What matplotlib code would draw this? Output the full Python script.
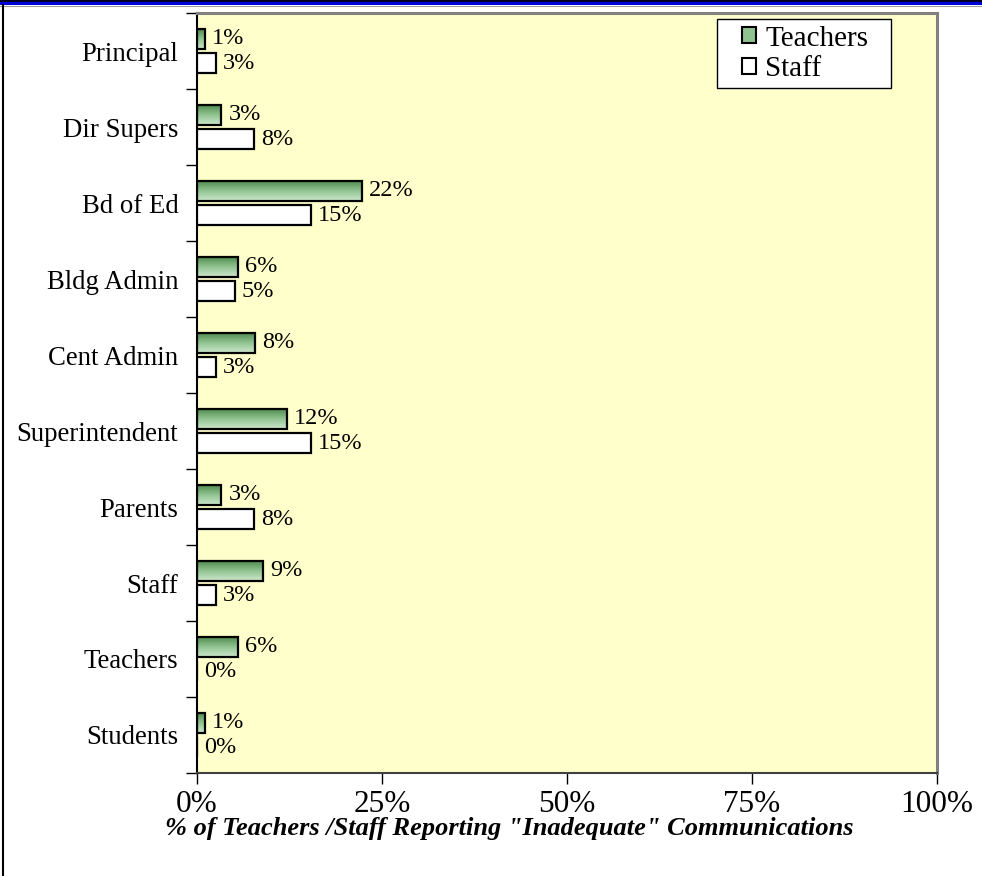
import numpy as np
import matplotlib.pyplot as plt
from matplotlib.patches import Rectangle
from matplotlib.lines import Line2D
from matplotlib.colors import LinearSegmentedColormap

# categories listed top to bottom
categories = ["Principal", "Dir Supers", "Bd of Ed", "Bldg Admin", "Cent Admin",
              "Superintendent", "Parents", "Staff", "Teachers", "Students"]
teachers = [1.1, 3.3, 22.3, 5.6, 7.8, 12.2, 3.3, 8.9, 5.6, 1.1]
staff = [2.6, 7.7, 15.4, 5.1, 2.6, 15.4, 7.7, 2.6, 0.0, 0.0]
teacher_labels = ["1%", "3%", "22%", "6%", "8%", "12%", "3%", "9%", "6%", "1%"]
staff_labels = ["3%", "8%", "15%", "5%", "3%", "15%", "8%", "3%", "0%", "0%"]
xticks = [0, 25, 50, 75, 100]
xtick_labels = ["0%", "25%", "50%", "75%", "100%"]

plt.rcParams['font.family'] = ['Liberation Serif', 'DejaVu Serif']

fig = plt.figure(figsize=(9.82, 8.76), dpi=100)
ax = fig.add_axes([197 / 982, 1 - 773 / 876, 740 / 982, 760 / 876])
ax.set_facecolor("#ffffcc")

n = len(categories)
ypos = np.arange(n)[::-1].astype(float)  # top category gets the largest y
h = 0.27
off = 0.16

green_cmap = LinearSegmentedColormap.from_list("g", ["#4a874a", "#8fc28f", "#cde8cd"])
grad = np.linspace(0, 1, 64).reshape(-1, 1)

tbars = ax.barh(ypos + off, teachers, height=h, facecolor="none",
                edgecolor="black", linewidth=1.6, zorder=3)
sbars = ax.barh(ypos - off, staff, height=h, facecolor="white",
                edgecolor="black", linewidth=1.6, zorder=3)

# gradient fill for the green bars
for b, v in zip(tbars, teachers):
    y0 = b.get_y()
    im = ax.imshow(grad, cmap=green_cmap, aspect="auto", origin="upper",
                   extent=(0, v, y0, y0 + h), zorder=2, interpolation="bilinear")
    im.set_clip_path(b)

for b, v, lab in zip(tbars, teachers, teacher_labels):
    ax.annotate(lab, (v, b.get_y() + h / 2), xytext=(5, 0), textcoords="offset points",
                va="center", ha="left", fontsize=17.5, zorder=4)
for b, v, lab in zip(sbars, staff, staff_labels):
    ax.annotate(lab, (v, b.get_y() + h / 2), xytext=(5, 0), textcoords="offset points",
                va="center", ha="left", fontsize=17.5, zorder=4)

ax.set_xlim(0, 100)
ax.set_ylim(-0.5, n - 0.5)

ax.set_xticks(xticks)
ax.set_xticklabels(xtick_labels, fontsize=22.5)
ax.tick_params(axis="x", direction="out", length=8, width=1, pad=4)

ax.set_yticks(ypos)
ax.set_yticklabels(categories, fontsize=19.3)
ax.set_yticks(np.arange(n + 1) - 0.5, minor=True)
ax.tick_params(axis="y", which="major", length=0, pad=13.5)
ax.tick_params(axis="y", which="minor", direction="out", length=8, width=1)

ax.spines["left"].set_color("black")
ax.spines["left"].set_linewidth(1.5)
ax.spines["bottom"].set_color("#404040")
ax.spines["bottom"].set_linewidth(1.5)
for s in ("top", "right"):
    ax.spines[s].set_color("#808080")
    ax.spines[s].set_linewidth(2.2)

# the title sits over the tick labels in the original as well
fig.text(509 / 982, 1 - 828 / 876,
         "% of Teachers /Staff Reporting \"Inadequate\" Communications",
         ha="center", va="center", fontsize=19, fontweight="bold", style="italic")

# legend: frame drawn separately so its box matches the original
fig.patches.append(Rectangle((717 / 982, 1 - 88 / 876), 174 / 982, 69 / 876,
                             transform=fig.transFigure, facecolor="white",
                             edgecolor="black", linewidth=1, zorder=5))
handles = [Rectangle((0, 0), 1, 1, facecolor="#8fc28f", edgecolor="black", linewidth=1.5),
           Rectangle((0, 0), 1, 1, facecolor="white", edgecolor="black", linewidth=1.5)]
leg = fig.legend(handles, ["Teachers", "Staff"], loc="center",
                 bbox_to_anchor=(805 / 982, 1 - 54 / 876), fontsize=21,
                 handlelength=0.5, handleheight=0.5, handletextpad=0.3,
                 borderpad=0, labelspacing=0.17, frameon=False, borderaxespad=0)
leg.set_zorder(6)

# page decorations: blue band on top, rule on the left
fig.patches.append(Rectangle((0, 1 - 5 / 876), 1, 5 / 876, transform=fig.transFigure,
                             facecolor="#0000dd", edgecolor="none"))
fig.lines.append(Line2D([0, 1], [1 - 0.5 / 876] * 2, transform=fig.transFigure,
                        color="black", linewidth=1.2))
fig.lines.append(Line2D([0, 1], [1 - 6 / 876] * 2, transform=fig.transFigure,
                        color="#a0a0a0", linewidth=0.8))
fig.lines.append(Line2D([2.5 / 982] * 2, [0, 1 - 5 / 876], transform=fig.transFigure,
                        color="black", linewidth=1.5))

fig.savefig("out.png", dpi=100)
